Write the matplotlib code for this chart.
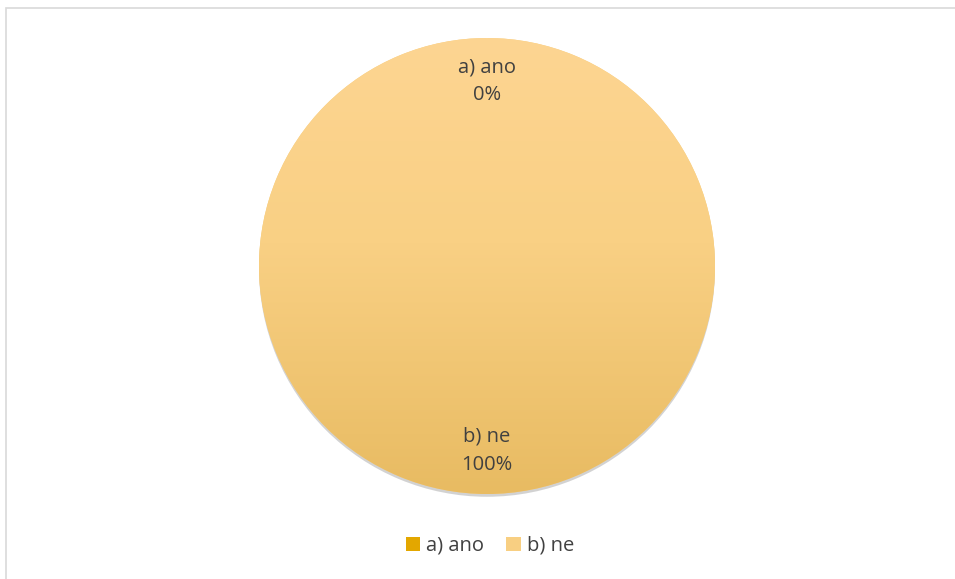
import matplotlib.pyplot as plt
import matplotlib.patheffects as pe
import numpy as np
from matplotlib.colors import LinearSegmentedColormap
from matplotlib.patches import Rectangle, Patch

categories = ["a) ano", "b) ne"]
values = [0, 100]
slice_colors = ["#E3A700", "#F8CF82"]
gradient_top = "#FDD592"
gradient_mid = "#F9D084"
gradient_bottom = "#E8BB62"
text_color = "#404040"

plt.rcParams['font.family'] = ['Open Sans', 'DejaVu Sans']

fig = plt.figure(figsize=(9.55, 5.79), dpi=100)
W, H = 955, 579
cx, cy, r = 487, 266, 228
ax = fig.add_axes([(cx - r) / W, (H - cy - r) / H, 2 * r / W, 2 * r / H])

wedges, _ = ax.pie(values, colors=slice_colors, startangle=90, counterclock=False,
                   radius=1, wedgeprops=dict(linewidth=0))
ax.set_xlim(-1, 1)
ax.set_ylim(-1, 1)
ax.set_aspect('equal')
ax.axis('off')

# shadow + gradient fill for the non-empty slice
cmap = LinearSegmentedColormap.from_list("grad", [(0, gradient_bottom), (0.55, gradient_mid), (1, gradient_top)])
grad = np.linspace(0, 1, 256).reshape(-1, 1)
total = sum(values)
for w, v in zip(wedges, values):
    if v == 0:
        continue
    w.set_path_effects([pe.SimplePatchShadow(offset=(0, -2), shadow_rgbFace='#808080', alpha=0.35),
                        pe.Normal()])
    im = ax.imshow(grad, extent=[-1, 1, -1, 1], origin='lower', cmap=cmap,
                   aspect='auto', zorder=w.get_zorder() + 0.1)
    im.set_clip_path(w)

# data labels
start = 90
for cat, v in zip(categories, values):
    mid = start - v / total * 360 / 2
    start -= v / total * 360
    ang = np.deg2rad(mid)
    d = 0.81
    ax.text(d * np.cos(ang), d * np.sin(ang), f"{cat}\n{v / total:.0%}",
            ha='center', va='center', fontsize=14.5, color=text_color,
            linespacing=1.55, zorder=5)

# legend
handles = [Patch(facecolor=c, edgecolor='none') for c in slice_colors]
fig.legend(handles, categories, loc='center', bbox_to_anchor=(490 / W, 1 - 546 / H),
           ncol=2, frameon=False, fontsize=14.5, handlelength=0.7, handleheight=0.7,
           handletextpad=0.3, columnspacing=1.1, labelcolor=text_color)

# chart frame
fig.patches.append(Rectangle((6 / W, -0.05), 1.1, 1 - 8 / H + 0.05, transform=fig.transFigure,
                             fill=False, edgecolor='#D9D9D9', linewidth=1.2))

fig.savefig("out.png", dpi=100, facecolor='white')
